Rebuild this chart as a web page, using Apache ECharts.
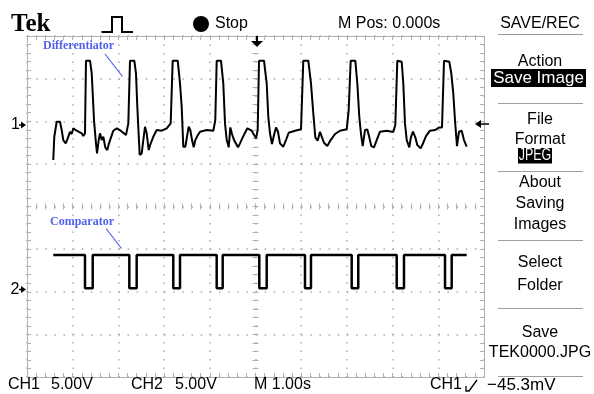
<!DOCTYPE html>
<html><head><meta charset="utf-8">
<script src="https://cdn.jsdelivr.net/npm/echarts@6/dist/echarts.min.js"></script>
<style>html,body{margin:0;padding:0;background:#fff}#c{width:594px;height:394px}</style>
</head><body><div id="c"></div>
<script>
// Time in seconds (M 1.00s/div, M Pos 0.000s at centre)
const diffTime = [-4.425,-4.403,-4.350,-4.278,-4.241,-4.206,-4.153,-4.109,-4.059,-4.022,-3.987,-3.912,-3.803,-3.768,-3.731,
 -3.709,-3.621,-3.584,-3.562,-3.534,-3.497,-3.468,-3.431,-3.403,-3.365,-3.330,-3.287,-3.243,-3.206,-3.162,-3.112,-3.037,-2.950,-2.834,-2.783,
 -2.746,-2.652,-2.615,-2.586,-2.565,-2.534,-2.490,-2.455,-2.418,-2.381,-2.337,-2.293,-2.236,-2.162,-2.053,-1.943,-1.856,
 -1.812,-1.702,-1.652,-1.615,-1.580,-1.536,-1.499,-1.462,-1.427,-1.389,-1.352,-1.317,-1.274,-1.214,-1.068,-0.923,-0.880,
 -0.849,-0.755,-0.705,-0.667,-0.630,-0.586,-0.551,-0.514,-0.470,-0.427,-0.383,-0.339,-0.280,-0.179,-0.083,0.011,0.048,
 0.077,0.186,0.245,0.280,0.317,0.361,0.405,0.449,0.492,0.536,0.608,0.667,0.726,0.864,0.996,
 1.046,1.155,1.214,1.265,1.309,1.361,1.411,1.455,1.499,1.571,1.645,1.740,1.849,1.996,2.039,
 2.083,2.184,2.228,2.271,2.309,2.346,2.396,2.446,2.490,2.534,2.593,2.652,2.724,2.871,3.015,3.059,
 3.103,3.199,3.234,3.271,3.309,3.365,3.403,3.446,3.497,3.540,3.615,3.672,3.731,3.818,3.928,4.022,4.081,
 4.125,4.241,4.284,4.328,4.365,4.409,4.453,4.512,4.562,4.621];
// CH1 (differentiator) volts, 5.00 V/div
const diffVolt = [-4.55,-1.82,-0.06,-0.06,-1.03,-2.21,-2.59,-2.01,-1.23,-1.50,-0.83,-1.11,-1.42,-1.74,-1.42,
 7.10,7.10,5.62,3.27,0.14,-2.21,-3.77,-2.21,-1.42,-2.21,-1.82,-3.06,-3.38,-2.59,-1.89,-1.11,-0.83,-1.11,-1.62,-0.25,
 7.10,7.10,5.62,1.70,-0.65,-3.96,-3.77,-2.21,-0.65,-1.42,-3.38,-2.59,-1.82,-1.03,-1.11,-0.83,-0.25,
 7.10,7.10,4.45,1.70,-2.99,-2.99,-1.82,-0.65,-1.03,-2.21,-3.06,-2.21,-1.74,-1.23,-1.03,-1.11,0.14,
 7.10,7.10,4.45,-0.25,-2.21,-3.06,-0.72,-1.50,-2.21,-2.21,-3.06,-2.59,-1.89,-0.83,-1.11,-2.01,-1.03,
 7.10,7.10,4.45,0.53,-1.42,-2.67,-1.62,-0.72,-1.23,-2.59,-2.99,-2.21,-1.35,-1.11,-0.95,
 7.10,7.10,4.45,0.93,-1.89,-2.29,-1.23,-1.89,-2.52,-2.91,-2.21,-1.50,-1.11,-0.95,1.31,
 7.10,7.10,4.45,0.53,-1.50,-2.91,-1.03,-0.95,-1.89,-2.91,-3.06,-2.21,-1.23,-1.11,-1.27,-0.45,
 7.10,6.98,4.45,-0.25,-2.21,-3.06,-1.82,-1.23,-1.89,-2.79,-3.18,-2.52,-1.74,-1.11,-1.03,-0.72,-0.72,
 7.10,6.98,5.62,3.27,0.14,-2.91,-1.23,-1.11,-2.21,-2.99];
// CH2 (comparator): edge times (s) and levels (V)
const compFall = [-3.731,-2.761,-1.799,-0.849,0.083,1.083,2.105,3.090,4.147];
const compRise = [-3.562,-2.600,-1.652,-0.718,0.245,1.214,2.249,3.249,4.293];
const compSpan = [-4.425, 4.621];
const compLevels = [4.3, 0.4]; // high, low

const menuLabels = [['Action',62],['File',119.5],['Format',139.5],['About',183],['Saving',204],['Images',225],['Select',263],['Folder',286],['Save',333],['TEK0000.JPG',353]];
const statusLabels = [['CH1',8],['5.00V',51],['CH2',131],['5.00V',175],['M 1.00s',254],['CH1',430]];

const compData = [[compSpan[0], compLevels[0]]];
compFall.forEach((f,i)=>{
  compData.push([f,compLevels[0]],[f,compLevels[1]],[compRise[i],compLevels[1]],[compRise[i],compLevels[0]]);
});
compData.push([compSpan[1], compLevels[0]]);

const gridColor = '#b0b0b0', dotColor = '#aaaaaa';
const F = '"Liberation Sans", Arial, sans-serif';
function txt(t, x, y, opt) {
  opt = opt || {};
  const el = {type:'text', x:x, y:y, z:opt.z||10, style:{text:t, fill:opt.fill||'#000', font:opt.font||('16px '+F),
    align:opt.align||'left', verticalAlign:'middle', textAlign:opt.align||'left', textVerticalAlign:'middle'}};
  if (opt.sx) el.scaleX = opt.sx;
  return el;
}
function line(x1,y1,x2,y2,c,w){return {type:'line', shape:{x1:x1,y1:y1,x2:x2,y2:y2}, style:{stroke:c||'#999', lineWidth:w||1}, z:10};}

const graphics = [];
graphics.push(txt('Tek', 11, 24.5, {font:'bold 25px "Liberation Serif", serif'}));
graphics.push({type:'polyline', shape:{points:[[101.5,32],[112,32],[112,17],[122,17],[122,32],[133,32]]}, style:{stroke:'#000', lineWidth:2, fill:null}, z:10});
graphics.push({type:'circle', shape:{cx:201, cy:24, r:8}, style:{fill:'#000'}, z:10});
graphics.push(txt('Stop', 215, 24));
graphics.push(txt('M Pos: 0.000s', 338, 24));
graphics.push(txt('SAVE/REC', 540, 24, {align:'center'}));
graphics.push(line(498,34.5,583,34.5,'#999',1));
menuLabels.forEach(m=>graphics.push(txt(m[0], 540, m[1], {align:'center'})));
graphics.push({type:'rect', shape:{x:491, y:69, width:95, height:18}, style:{fill:'#000'}, z:9});
graphics.push(txt('Save Image', 538.5, 78.5, {align:'center', fill:'#fff', font:'17px '+F}));
graphics.push({type:'rect', shape:{x:518, y:148, width:34, height:15.5}, style:{fill:'#000'}, z:9});
graphics.push(txt('JPEG', 535, 156, {align:'center', fill:'#fff', sx:0.78}));
[103.5,171.5,240.5,308.5,376.5].forEach(y=>graphics.push(line(498,y,583,y,'#a0a0a0',1)));
statusLabels.forEach(s=>graphics.push(txt(s[0], s[1], 385)));
graphics.push(txt('\u221245.3mV', 487, 385, {font:'17px '+F}));
graphics.push({type:'polyline', shape:{points:[[466,386],[466,391],[469,391],[477,380]]}, style:{stroke:'#000', lineWidth:1.3, fill:null}, z:10});
// channel / trigger markers
graphics.push(txt('1', 11, 125));
graphics.push({type:'polygon', shape:{points:[[26,125],[21,121.5],[21,128.5]]}, style:{fill:'#000'}, z:10});
graphics.push(line(19,125,22,125,'#000',1.5));
graphics.push(txt('2', 10.5, 289.5));
graphics.push({type:'polygon', shape:{points:[[26,289.5],[21,286],[21,293]]}, style:{fill:'#000'}, z:10});
graphics.push(line(19,289.5,22,289.5,'#000',1.5));
graphics.push({type:'polygon', shape:{points:[[475,124],[481,120],[481,128]]}, style:{fill:'#000'}, z:10});
graphics.push(line(480,124,489,124,'#000',1.5));
graphics.push({type:'polygon', shape:{points:[[257,47],[251,41],[263,41]]}, style:{fill:'#000'}, z:10});
graphics.push(line(257,36,257,42,'#000',2));
// annotations
const annBlue = '#5061ee';
graphics.push(txt('Differentiator', 43, 45.5, {font:'bold 12px "Liberation Serif", serif', fill:annBlue}));
graphics.push(line(105,54,122.5,76.5,annBlue,1.2));
graphics.push(txt('Comparator', 50, 222, {font:'bold 12px "Liberation Serif", serif', fill:annBlue}));
graphics.push(line(106,228.5,121.5,248.5,annBlue,1.2));

const tickStyle = {color:gridColor, width:1};
function edgeAxis(extra){
  return Object.assign({type:'value', axisLabel:{show:false}, axisLine:{show:true, onZero:false, lineStyle:{color:gridColor, width:1}},
    axisTick:{show:true, inside:true, length:4, lineStyle:tickStyle},
    minorTick:{show:true, splitNumber:5, length:4, lineStyle:tickStyle}, splitLine:{show:false}}, extra);
}
const option = {
  animation:false,
  backgroundColor:'#fff',
  grid:{left:27, top:36, width:457, height:341, show:false},
  xAxis:[
    edgeAxis({min:-5, max:5, interval:1, position:'bottom', splitLine:{show:true, lineStyle:{color:dotColor, width:1.5, type:[1.5,7.0]}}}),
    edgeAxis({min:-5, max:5, interval:1, position:'top'}),
    edgeAxis({min:-5, max:5, interval:1, position:'bottom', offset:-167.6, axisLine:{show:false, onZero:false},
      axisTick:{show:true, inside:true, length:6, lineStyle:tickStyle}, minorTick:{show:true, splitNumber:5, length:6, lineStyle:tickStyle}})
  ],
  yAxis:[
    edgeAxis({min:0, max:8, interval:1, position:'left', splitLine:{show:true, lineStyle:{color:dotColor, width:1.5, type:[1.5,7.64]}}}),
    edgeAxis({min:0, max:8, interval:1, position:'right'}),
    edgeAxis({min:0, max:8, interval:1, position:'left', offset:-225.5, axisLine:{show:false, onZero:false},
      axisTick:{show:true, inside:true, length:6, lineStyle:tickStyle}, minorTick:{show:true, splitNumber:5, length:6, lineStyle:tickStyle}}),
    {type:'value', min:-30, max:10, show:false},
    {type:'value', min:-10, max:30, show:false}
  ],
  series:[
    {type:'line', name:'Differentiator', xAxisIndex:0, yAxisIndex:3, data:diffTime.map((t,i)=>[t,diffVolt[i]]),
      symbol:'none', lineStyle:{color:'#000', width:2}, z:5, silent:true},
    {type:'line', name:'Comparator', xAxisIndex:0, yAxisIndex:4, data:compData,
      symbol:'none', lineStyle:{color:'#000', width:2.5}, z:5, silent:true}
  ],
  graphic:graphics
};
echarts.init(document.getElementById('c')).setOption(option);
</script></body></html>
